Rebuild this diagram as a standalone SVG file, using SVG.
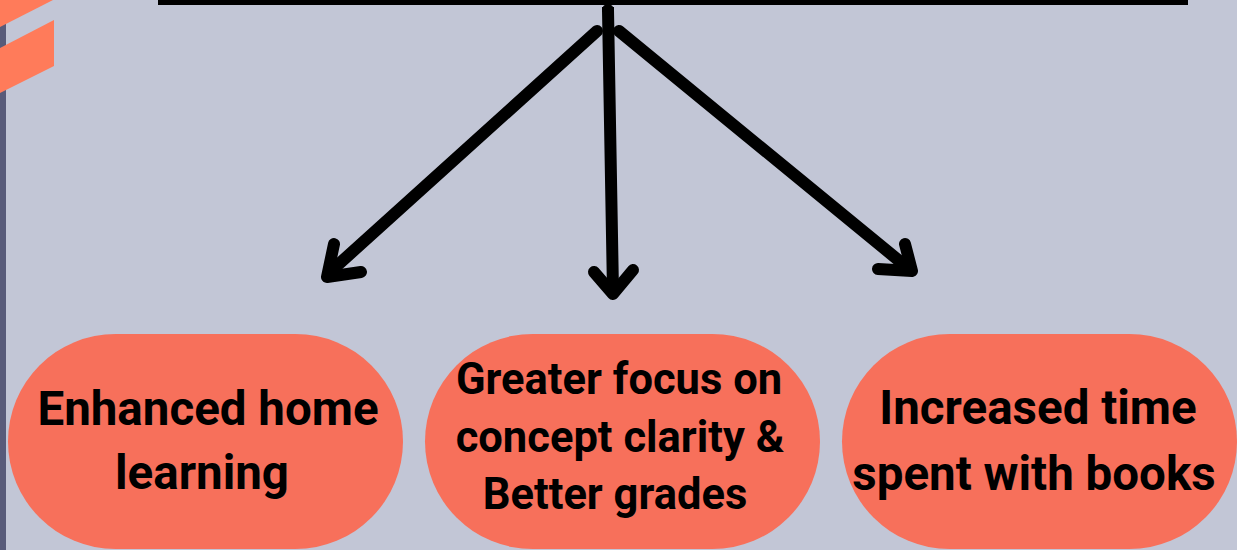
<svg xmlns="http://www.w3.org/2000/svg" width="1237" height="550" viewBox="0 0 1237 550">
<style>
.pill{fill:#F7705B}
.t{font-family:Roboto,"Liberation Sans",sans-serif;font-weight:700;fill:#000;text-anchor:middle}
.big{font-size:47.5px}
.mid{font-size:43.5px}
.conn{stroke:#000;stroke-width:12;fill:none;stroke-linecap:round;stroke-linejoin:round}
</style>
<rect x="0" y="0" width="1237" height="550" fill="#C2C6D6"/>
<rect x="0" y="0" width="6" height="550" fill="#585B7A"/>
<polygon points="0,0 53,0 0,27" fill="#FF7B5A"/>
<polygon points="0,48 54,20 54,66 0,93" fill="#FF7B5A"/>
<rect x="158" y="0" width="1030" height="5" fill="#000"/>
<g id="connectors">
<line x1="608" y1="7" x2="608" y2="12" stroke="#000" stroke-width="12"/>
<path class="conn" d="M608,10 L613,292"/>
<path class="conn" d="M594,272 L613,294 L633,270"/>
<path class="conn" d="M597,31 L330,272"/>
<path class="conn" d="M334,244 L327,277 L361,272"/>
<path class="conn" d="M619,31 L908,268"/>
<path class="conn" d="M905,244 L912,271 L878,269"/>
</g>
<g id="node-home">
<rect class="pill" x="8" y="334" width="395" height="215" rx="107.5"/>
<text class="t big" x="208" y="425">Enhanced home</text>
<text class="t big" x="202" y="489">learning</text>
</g>
<g id="node-focus">
<rect class="pill" x="425" y="334" width="395" height="215" rx="107.5"/>
<text class="t mid" x="619" y="394">Greater focus on</text>
<text class="t mid" x="620" y="452">concept clarity &amp;</text>
<text class="t mid" x="615" y="509">Better grades</text>
</g>
<g id="node-books">
<rect class="pill" x="842" y="334" width="395" height="215" rx="107.5"/>
<text class="t big" x="1038" y="424">Increased time</text>
<text class="t big" x="1034" y="490">spent with books</text>
</g>
</svg>
